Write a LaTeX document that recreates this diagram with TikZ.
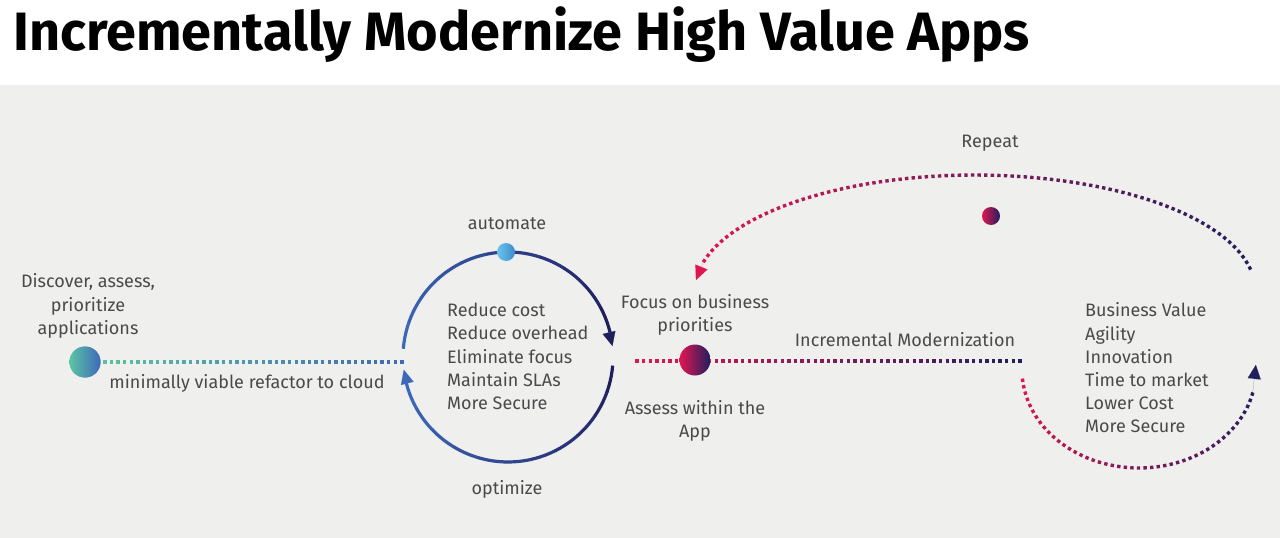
\documentclass[tikz,border=0pt]{standalone}
\usepackage{fontspec}
\setmainfont{Fira Sans}
\usepackage{xcolor}
\usetikzlibrary{positioning,arrows.meta,calc,decorations.markings}

\definecolor{bgc}{HTML}{EFEFEE}
\definecolor{txtc}{HTML}{4A4A4A}
\definecolor{tealc}{HTML}{5CC6A2}
\definecolor{bluec}{HTML}{3D68BA}
\definecolor{navyc}{HTML}{1F1F5E}
\definecolor{redc}{HTML}{E2164F}
\definecolor{skyc}{HTML}{6CC6E8}
\definecolor{skyd}{HTML}{3C8AD0}

\begin{document}
\begin{tikzpicture}[x=1pt, y=-1pt,
  txt/.style={text=txtc, font=\fontsize{18}{23.2}\selectfont, inner sep=0pt},
  ball/.style={circle, minimum size=31pt, inner sep=0pt},
  minib/.style={circle, minimum size=18pt, inner sep=0pt},
  ring/.style={line width=3.2pt},
  tip/.style={line width=0.01pt, -{Triangle[length=14pt, width=13pt]}},
  dotgrad/.style 2 args={postaction={decorate}, decoration={markings,
    mark=between positions 0 and 1 step 6.6pt with {
      \pgfmathtruncatemacro\dotp{100*(\pgfkeysvalueof{/pgf/decoration/mark info/distance from start}/\pgfdecoratedpathlength)}
      \fill[#2!\dotp!#1] (-1.7pt,-1.7pt) rectangle (1.7pt,1.7pt);}}}]
\useasboundingbox (0,0) rectangle (1280,538);
\fill[bgc] (0,85) rectangle (1280,538);
\node[anchor=base west, font=\fontsize{54}{58}\selectfont\bfseries] (title) at (10,50) {Incrementally Modernize High Value Apps};

% discover
\node[ball, left color=tealc, right color=bluec] (disc) at (85,362) {};
\node[txt, align=center] (disctxt) at (88,306) {Discover, assess,\\prioritize\\applications};
\coordinate (cycW) at (405,362);
\path[dotgrad={tealc}{bluec}] (disc.center) -- (cycW);
\node[ball, left color=tealc, right color=bluec] at (disc) {};
\node[txt] (refac) at (247,383) {minimally viable refactor to cloud};

% cycle
\foreach \k in {0,...,10}{
  \pgfmathsetmacro\aa{184.5+\k*14.7}
  \pgfmathsetmacro\ab{\aa+14.9}
  \pgfmathtruncatemacro\p{100*\k/10}
  \draw[ring, navyc!\p!bluec] plot[domain=\aa:\ab, samples=6] ({508+105*cos(\x)},{357+105*sin(\x)});
  \pgfmathsetmacro\ba{4.7+\k*14.6}
  \pgfmathsetmacro\bb{\ba+14.8}
  \draw[ring, bluec!\p!navyc] plot[domain=\ba:\bb, samples=6] ({508+105*cos(\x)},{357+105*sin(\x)});
}
\coordinate (cycA) at ({508+105*cos(338)},{357+105*sin(338)});
\coordinate (cycB) at ({508+105*cos(354)},{357+105*sin(354)});
\coordinate (cycC) at ({508+105*cos(158)},{357+105*sin(158)});
\coordinate (cycD) at ({508+105*cos(173)},{357+105*sin(173)});
\draw[tip, navyc] (cycA) -- (cycB);
\draw[tip, bluec] (cycC) -- (cycD);
\node[minib, left color=skyc, right color=skyd] (auto) at (506,252) {};
\node[txt] (autotxt) at (507,224) {automate};
\node[txt] (opt) at (507,489) {optimize};
\node[txt, align=left, anchor=west] (gains) at (447,356.5) {Reduce cost\\Reduce overhead\\Eliminate focus\\Maintain SLAs\\More Secure};

% incremental
\coordinate (incW) at (637,361);
\coordinate (incE) at (1022,361);
\path[dotgrad={redc}{navyc}] (incW) -- (incE);
\node[ball, left color=redc, right color=navyc] (focus) at (695,360) {};
\node[txt, align=center] (focustxt) at (695,315) {Focus on business\\priorities};
\node[txt, align=center] (assess) at (695,421) {Assess within the\\App};
\node[txt] (incr) at (905,340) {Incremental Modernization};

% repeat arc
\path[dotgrad={navyc}{redc}] plot[domain=-11:-168, samples=60] ({975+280*cos(\x)},{290+115*sin(\x)});
\coordinate (repA) at ({975+280*cos(-166)},{290+115*sin(-166)});
\coordinate (repB) at ({975+280*cos(-175)},{290+115*sin(-175)});
\draw[tip, redc] (repA) -- (repB);
\node[minib, left color=redc, right color=navyc] (repdot) at (991,216) {};
\node[txt] (reptxt) at (990,143) {Repeat};

% value arc
\path[dotgrad={redc}{navyc}] plot[domain=174:12, samples=50] ({1139+117*cos(\x)},{370+98*sin(\x)});
\coordinate (valA) at ({1139+117*cos(14)},{370+98*sin(14)});
\coordinate (valB) at ({1139+117*cos(-3)},{370+98*sin(-3)});
\draw[tip, navyc] (valA) -- (valB);
\node[txt, align=left, anchor=west] (value) at (1085,368) {Business Value\\Agility\\Innovation\\Time to market\\Lower Cost\\More Secure};
\end{tikzpicture}
\end{document}
